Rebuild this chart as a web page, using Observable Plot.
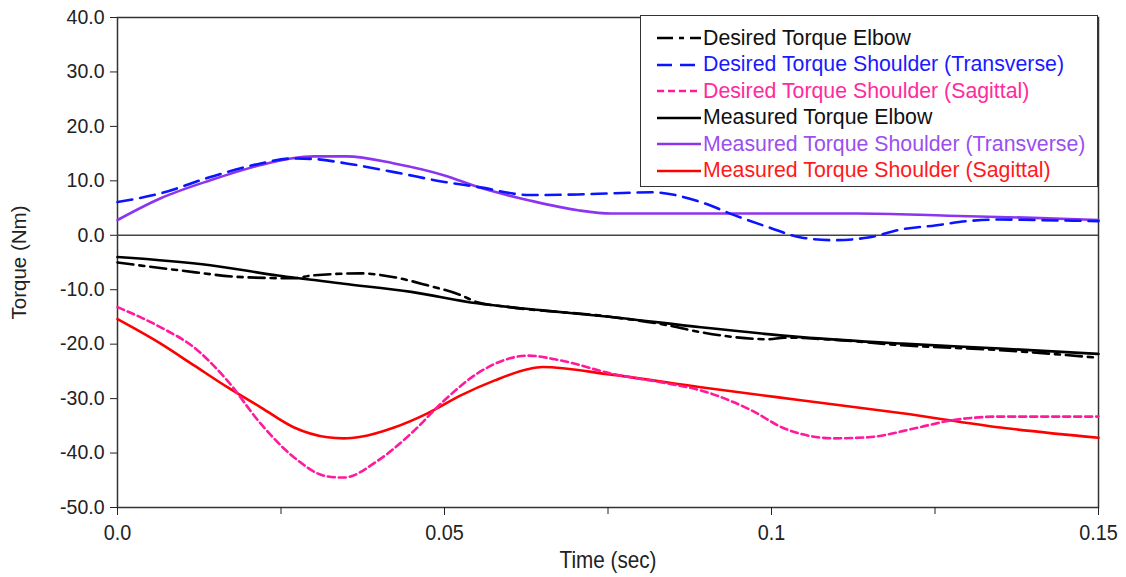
<!DOCTYPE html>
<html>
<head>
<meta charset="utf-8">
<script src="https://cdn.jsdelivr.net/npm/d3@7"></script>
<script src="https://cdn.jsdelivr.net/npm/@observablehq/plot@0.6"></script>
<style>
  html, body { margin: 0; padding: 0; background: #fff; }
  #wrap { position: relative; width: 1126px; height: 577px; font-family: "Liberation Sans", Arial, sans-serif; }
  #legend { position: absolute; left: 640px; top: 15px; width: 458px; height: 172px; border: 1.5px solid #333; background: #fff; box-sizing: border-box; }
  .item { position: absolute; left: 16px; height: 26px; display: flex; align-items: center; font-size: 21.3px; white-space: nowrap; }
  .item svg { margin-right: 2px; }
</style>
</head>
<body>
<div id="wrap"><div id="chart"></div><div id="legend"></div></div>
<script>
// Series names
const seriesNames = [
  "Desired Torque Elbow",
  "Desired Torque Shoulder (Transverse)",
  "Desired Torque Shoulder (Sagittal)",
  "Measured Torque Elbow",
  "Measured Torque Shoulder (Transverse)",
  "Measured Torque Shoulder (Sagittal)"
];
const seriesColors = ["#000000", "#0a14ff", "#ff1a9c", "#000000", "#8c35f0", "#ff0000"];
const seriesDash = ["16,6,5,6", "15,8", "7,4", null, null, null];

// Desired Elbow
const tDesElbow = [0, 0.0092, 0.0193, 0.027, 0.0296, 0.0372, 0.0423, 0.0474, 0.0525, 0.055, 0.060, 0.0755, 0.084, 0.0892, 0.0943, 0.0995, 0.102, 0.1096, 0.12, 0.135, 0.15];
const vDesElbow = [-5.0, -6.4, -7.7, -7.9, -7.4, -7.0, -7.7, -9.2, -11.0, -12.3, -13.2, -15.0, -16.5, -17.8, -18.7, -19.1, -18.8, -19.2, -20.2, -21.1, -22.5];
// Desired Shoulder Transverse
const tDesShT = [0, 0.0066, 0.0142, 0.0219, 0.0265, 0.030, 0.035, 0.0423, 0.05, 0.055, 0.063, 0.0704, 0.0755, 0.0816, 0.0892, 0.0943, 0.0995, 0.1045, 0.1096, 0.1148, 0.12, 0.125, 0.130, 0.135, 0.140, 0.15];
const vDesShT = [6.1, 7.7, 10.7, 13.2, 14.1, 14.0, 13.2, 11.6, 9.8, 8.9, 7.4, 7.5, 7.7, 7.9, 6.1, 3.7, 1.5, -0.4, -0.9, -0.4, 1.1, 1.8, 2.6, 2.9, 2.8, 2.6];
// Desired Shoulder Sagittal
const tDesShS = [0, 0.0066, 0.0117, 0.0168, 0.0219, 0.027, 0.0321, 0.0346, 0.0398, 0.0449, 0.05, 0.055, 0.060, 0.0627, 0.0678, 0.0755, 0.084, 0.0892, 0.097, 0.102, 0.1096, 0.1148, 0.1225, 0.1275, 0.135, 0.15];
const vDesShS = [-13.2, -16.9, -20.6, -26.7, -34.6, -40.8, -44.3, -44.5, -41.4, -36.4, -30.3, -25.4, -22.6, -22.1, -23.0, -25.4, -27.2, -28.5, -32.2, -35.5, -37.3, -37.1, -35.3, -34.0, -33.3, -33.3];
// Measured Elbow
const tMeasElbow = [0, 0.0142, 0.0245, 0.0346, 0.0449, 0.055, 0.065, 0.0755, 0.0892, 0.1045, 0.12, 0.135, 0.15];
const vMeasElbow = [-4.0, -5.5, -7.4, -8.9, -10.4, -12.5, -13.8, -15.0, -16.9, -18.7, -19.9, -20.8, -21.8];
// Measured Shoulder Transverse
const tMeasShT = [0, 0.0066, 0.0142, 0.0219, 0.0265, 0.030, 0.035, 0.0423, 0.05, 0.055, 0.063, 0.0704, 0.0755, 0.09, 0.113, 0.127, 0.14, 0.15];
const vMeasShT = [2.8, 6.8, 10.1, 12.9, 14.1, 14.5, 14.5, 13.2, 11.0, 8.9, 6.4, 4.6, 4.0, 4.0, 4.0, 3.6, 3.2, 2.8];
// Measured Shoulder Sagittal
const tMeasShS = [0, 0.0066, 0.0117, 0.0168, 0.0219, 0.027, 0.0321, 0.0346, 0.0372, 0.0423, 0.0474, 0.0525, 0.0576, 0.0627, 0.065, 0.0755, 0.0892, 0.1045, 0.12, 0.135, 0.15];
const vMeasShS = [-15.4, -19.9, -23.9, -27.9, -31.6, -35.3, -37.1, -37.3, -37.0, -35.3, -32.7, -29.4, -26.7, -24.6, -24.2, -25.6, -27.9, -30.3, -32.7, -35.3, -37.2];

const xTicks = [0, 0.05, 0.1, 0.15];
const xTickLabels = ["0.0", "0.05", "0.1", "0.15"];
const xMinorTicks = [0.025, 0.075, 0.125];
const yTicks = [-50, -40, -30, -20, -10, 0, 10, 20, 30, 40];

const tArrays = [tDesElbow, tDesShT, tDesShS, tMeasElbow, tMeasShT, tMeasShS];
const vArrays = [vDesElbow, vDesShT, vDesShS, vMeasElbow, vMeasShT, vMeasShS];
const rows = [];
seriesNames.forEach((name, i) => tArrays[i].forEach((t, j) => rows.push({series: name, t, v: vArrays[i][j], idx: i})));

// draw order: measured first, desired on top
const order = [4, 1, 3, 0, 5, 2];
const lineMarks = order.map(i => Plot.line(rows.filter(d => d.idx === i), {
  x: "t", y: "v", stroke: seriesColors[i], strokeWidth: 2.6,
  strokeDasharray: seriesDash[i] || undefined, curve: "monotone-x"
}));

const chart = Plot.plot({
  width: 1126, height: 577,
  marginLeft: 117, marginRight: 28, marginTop: 17, marginBottom: 70,
  style: {fontFamily: "'Liberation Sans', Arial, sans-serif", color: "#222", background: "#fff"},
  x: {type: "linear", domain: [0, 0.15]},
  y: {type: "linear", domain: [-50, 40]},
  marks: [
    Plot.frame({stroke: "#333", strokeWidth: 1.5}),
    Plot.ruleY([0], {stroke: "#444", strokeWidth: 1.5}),
    ...lineMarks,
    Plot.axisY({ticks: yTicks, tickFormat: d => d.toFixed(1), tickSize: 7, tickPadding: 6, fontSize: 19.5,
      label: "Torque (Nm)", labelAnchor: "center", labelArrow: "none", labelOffset: 106}),
    Plot.axisX({ticks: xTicks, tickFormat: d => xTickLabels[xTicks.indexOf(d)], tickSize: 8, tickPadding: 9,
      fontSize: 22, label: "Time (sec)", labelAnchor: "center", labelArrow: "none", labelOffset: 60}),
    Plot.axisX({ticks: xMinorTicks, tickFormat: () => "", tickSize: 7, label: null})
  ]
});
document.getElementById("chart").appendChild(chart);

// style axis labels
chart.querySelectorAll("g[aria-label='y-axis label'] text").forEach(t => t.setAttribute("font-size", "20.5"));
chart.querySelectorAll("g[aria-label='x-axis label'] text").forEach(t => {
  t.setAttribute("font-size", "23");
  t.setAttribute("transform", (t.getAttribute("transform") || "") + " scale(0.9,1)");
});
chart.querySelectorAll("g[aria-label='x-axis tick label'] text").forEach(t => {
  t.setAttribute("font-size", "22");
  t.setAttribute("transform", (t.getAttribute("transform") || "") + " scale(0.9,1)");
});

// legend
const legend = document.getElementById("legend");
const legendColorsText = ["#111", "#1a1aff", "#ff2a9d", "#111", "#9a4ff0", "#ff1a1a"];
seriesNames.forEach((name, k) => {
  const div = document.createElement("div");
  div.className = "item";
  div.style.top = (9 + k * 26.5) + "px";
  const dash = seriesDash[k] ? ` stroke-dasharray="${seriesDash[k]}"` : "";
  div.innerHTML = `<svg width="44" height="10"><line x1="0" y1="5" x2="44" y2="5" stroke="${seriesColors[k]}" stroke-width="2.6"${dash}/></svg><span style="color:${legendColorsText[k]}">${name}</span>`;
  legend.appendChild(div);
});
</script>
</body>
</html>
